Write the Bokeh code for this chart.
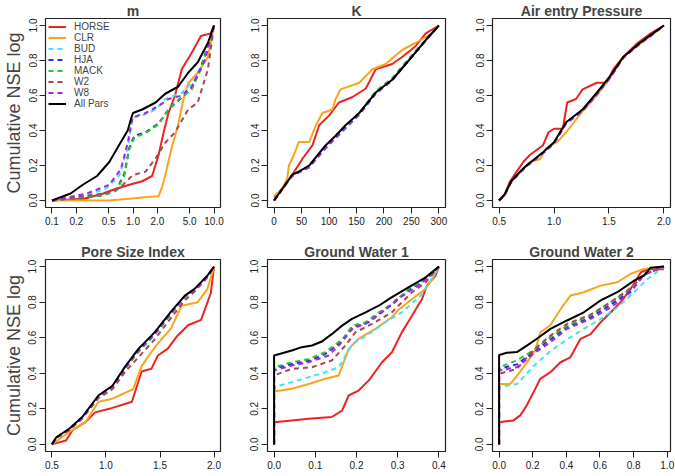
import math
from bokeh.plotting import figure
from bokeh.layouts import column, row
from bokeh.models import Range1d, FixedTicker, CustomJSTickFormatter
from bokeh.embed import file_html
from bokeh.resources import INLINE

# ---------------- data ----------------
SERIES = ["HORSE", "CLR", "BUD", "HJA", "MACK", "W2", "W8", "All Pars"]
Y_TICKS = [0.0, 0.2, 0.4, 0.6, 0.8, 1.0]

# panel m (log x)
m_ticks = [0.1, 0.2, 0.5, 1.0, 2.0, 5.0, 10.0]
m_horse_x = [0.1, 0.25, 0.43, 0.56, 0.9, 1.3, 1.72, 2.07, 2.39, 2.74, 3.3, 4.0, 5.25, 6.9, 9.1, 10]
m_horse_y = [0.0, 0.01, 0.04, 0.06, 0.09, 0.11, 0.14, 0.26, 0.39, 0.50, 0.60, 0.75, 0.84, 0.94, 0.955, 1.0]
m_clr_x = [0.1, 0.5, 0.9, 1.5, 2.07, 2.3, 2.5, 3.0, 3.6, 4.2, 4.8, 6.3, 8.4, 10]
m_clr_y = [0.0, 0.0, 0.01, 0.02, 0.025, 0.08, 0.145, 0.30, 0.43, 0.58, 0.67, 0.73, 0.82, 1.0]
m_bud_x = [0.1, 0.27, 0.47, 0.68, 0.86, 0.99, 1.3, 1.9, 2.5, 4.0, 5.8, 7.7, 10]
m_bud_y = [0.0, 0.03, 0.07, 0.145, 0.30, 0.475, 0.485, 0.52, 0.58, 0.615, 0.69, 0.82, 1.0]
m_hja_x = [0.1, 0.43, 0.62, 0.78, 0.9, 1.04, 1.43, 2.07, 2.74, 3.6, 5.3, 6.9, 10]
m_hja_y = [0.0, 0.03, 0.06, 0.15, 0.30, 0.37, 0.39, 0.44, 0.52, 0.57, 0.64, 0.76, 1.0]
m_mack_x = [0.1, 0.43, 0.62, 0.78, 0.9, 1.04, 1.43, 2.07, 2.74, 3.6, 5.3, 6.9, 10]
m_mack_y = [0.0, 0.03, 0.055, 0.14, 0.29, 0.36, 0.385, 0.435, 0.52, 0.575, 0.635, 0.75, 1.0]
m_w2_x = [0.1, 0.43, 0.68, 0.99, 1.43, 1.9, 2.5, 3.3, 4.8, 6.3, 8.4, 10]
m_w2_y = [0.0, 0.04, 0.07, 0.145, 0.165, 0.24, 0.33, 0.39, 0.52, 0.56, 0.75, 1.0]
m_w8_x = [0.1, 0.27, 0.51, 0.71, 0.86, 0.99, 1.43, 2.07, 2.74, 4.0, 5.3, 7.7, 10]
m_w8_y = [0.0, 0.04, 0.09, 0.18, 0.33, 0.475, 0.50, 0.54, 0.58, 0.60, 0.65, 0.80, 1.0]
m_all_x = [0.1, 0.17, 0.24, 0.36, 0.51, 0.68, 0.86, 0.95, 1.0, 1.3, 1.9, 2.5, 3.6, 4.8, 6.3, 8.4, 10]
m_all_y = [0.0, 0.04, 0.09, 0.14, 0.22, 0.32, 0.40, 0.47, 0.50, 0.52, 0.56, 0.61, 0.65, 0.73, 0.79, 0.90, 1.0]

# panel K
k_ticks = [0, 50, 100, 150, 200, 250, 300]
k_horse_x = [0, 18, 33, 52, 70, 82, 100, 118, 142, 167, 185, 215, 233, 257, 276, 300]
k_horse_y = [0.015, 0.08, 0.147, 0.24, 0.316, 0.43, 0.485, 0.56, 0.59, 0.64, 0.75, 0.78, 0.82, 0.88, 0.955, 1.0]
k_clr_x = [0, 15, 24, 27, 36, 45, 64, 76, 88, 106, 112, 121, 155, 179, 203, 233, 257, 288, 300]
k_clr_y = [0.024, 0.07, 0.128, 0.20, 0.26, 0.335, 0.335, 0.43, 0.50, 0.52, 0.58, 0.635, 0.673, 0.75, 0.78, 0.86, 0.90, 0.955, 1.0]
k_dash_x = [0, 33, 64, 94, 130, 155, 185, 215, 245, 276, 300]
k_bud_y = [0, 0.14, 0.19, 0.30, 0.41, 0.49, 0.61, 0.69, 0.80, 0.915, 1.0]
k_hja_y = [0, 0.145, 0.195, 0.31, 0.42, 0.495, 0.615, 0.69, 0.80, 0.915, 1.0]
k_mack_y = [0, 0.145, 0.20, 0.31, 0.425, 0.50, 0.625, 0.70, 0.81, 0.92, 1.0]
k_w2_y = [0, 0.145, 0.195, 0.305, 0.42, 0.495, 0.615, 0.69, 0.80, 0.915, 1.0]
k_w8_y = [0, 0.14, 0.19, 0.30, 0.415, 0.49, 0.61, 0.685, 0.80, 0.915, 1.0]
k_all_x = [0, 33, 45, 64, 94, 112, 130, 155, 185, 215, 245, 276, 300]
k_all_y = [0, 0.147, 0.165, 0.20, 0.316, 0.37, 0.43, 0.50, 0.617, 0.69, 0.80, 0.917, 1.0]

# panel Air entry Pressure
a_ticks = [0.5, 1.0, 1.5, 2.0]
a_horse_x = [0.5, 0.55, 0.6, 0.66, 0.72, 0.78, 0.9, 0.95, 1.0, 1.08, 1.12, 1.2, 1.26, 1.39, 1.48, 1.54, 1.63, 1.76, 1.88, 2.0]
a_horse_y = [0, 0.034, 0.11, 0.165, 0.22, 0.26, 0.316, 0.39, 0.41, 0.41, 0.56, 0.58, 0.635, 0.673, 0.673, 0.75, 0.82, 0.90, 0.955, 1.0]
a_clr_x = [0.5, 0.55, 0.61, 0.69, 0.78, 0.87, 0.93, 1.03, 1.11, 1.26, 1.39, 1.51, 1.63, 1.78, 1.9, 2.0]
a_clr_y = [0, 0.03, 0.105, 0.16, 0.22, 0.235, 0.30, 0.335, 0.39, 0.51, 0.60, 0.70, 0.82, 0.895, 0.95, 1.0]
a_dash_x = [0.5, 0.55, 0.61, 0.69, 0.75, 0.9, 1.0, 1.11, 1.26, 1.39, 1.51, 1.63, 1.78, 1.9, 2.0]
a_bud_y = [0, 0.03, 0.105, 0.16, 0.195, 0.27, 0.325, 0.44, 0.51, 0.605, 0.70, 0.815, 0.895, 0.95, 1.0]
a_hja_y = [0, 0.032, 0.107, 0.162, 0.198, 0.273, 0.33, 0.443, 0.515, 0.61, 0.705, 0.818, 0.897, 0.952, 1.0]
a_mack_y = [0, 0.033, 0.108, 0.163, 0.2, 0.275, 0.33, 0.445, 0.517, 0.612, 0.706, 0.818, 0.898, 0.953, 1.0]
a_w2_y = [0, 0.031, 0.106, 0.16, 0.197, 0.272, 0.328, 0.44, 0.512, 0.606, 0.702, 0.815, 0.896, 0.951, 1.0]
a_w8_y = [0, 0.031, 0.105, 0.16, 0.196, 0.271, 0.327, 0.441, 0.513, 0.608, 0.703, 0.816, 0.896, 0.951, 1.0]
a_all_x = [0.5, 0.55, 0.61, 0.69, 0.75, 0.9, 1.0, 1.11, 1.26, 1.39, 1.51, 1.63, 1.78, 1.9, 2.0]
a_all_y = [0, 0.034, 0.11, 0.165, 0.20, 0.276, 0.333, 0.447, 0.52, 0.616, 0.71, 0.82, 0.90, 0.955, 1.0]

# panel Pore Size Index
p_ticks = [0.5, 1.0, 1.5, 2.0]
p_horse_x = [0.5, 0.63, 0.69, 0.81, 0.9, 1.03, 1.24, 1.33, 1.42, 1.48, 1.57, 1.66, 1.76, 1.88, 1.97, 2.0]
p_horse_y = [0, 0.022, 0.08, 0.125, 0.18, 0.2, 0.24, 0.41, 0.425, 0.5, 0.537, 0.61, 0.67, 0.70, 0.85, 1.0]
p_clr_x = [0.5, 0.66, 0.81, 0.93, 1.06, 1.25, 1.33, 1.42, 1.51, 1.6, 1.7, 1.85, 1.94, 2.0]
p_clr_y = [0, 0.07, 0.125, 0.24, 0.257, 0.31, 0.44, 0.52, 0.59, 0.65, 0.78, 0.80, 0.875, 1.0]
p_dash_x = [0.5, 0.54, 0.66, 0.78, 0.93, 1.06, 1.18, 1.3, 1.45, 1.6, 1.73, 1.82, 1.94, 2.0]
p_bud_y = [0, 0.038, 0.085, 0.15, 0.27, 0.325, 0.43, 0.525, 0.62, 0.735, 0.83, 0.87, 0.945, 1.0]
p_hja_y = [0, 0.038, 0.086, 0.152, 0.272, 0.327, 0.435, 0.53, 0.625, 0.74, 0.832, 0.872, 0.947, 1.0]
p_mack_y = [0, 0.037, 0.084, 0.15, 0.268, 0.322, 0.428, 0.52, 0.615, 0.73, 0.828, 0.868, 0.944, 1.0]
p_w2_y = [0, 0.035, 0.08, 0.145, 0.26, 0.31, 0.41, 0.49, 0.59, 0.71, 0.81, 0.86, 0.94, 1.0]
p_w8_y = [0, 0.037, 0.085, 0.15, 0.27, 0.325, 0.432, 0.525, 0.62, 0.738, 0.832, 0.87, 0.946, 1.0]
p_all_x = [0.5, 0.54, 0.66, 0.78, 0.93, 1.06, 1.18, 1.3, 1.45, 1.6, 1.73, 1.82, 1.94, 2.0]
p_all_y = [0, 0.04, 0.088, 0.154, 0.275, 0.33, 0.44, 0.537, 0.63, 0.745, 0.837, 0.875, 0.95, 1.0]

# panel Ground Water 1
g1_ticks = [0.0, 0.1, 0.2, 0.3, 0.4]
g1_horse_x = [0, 0, 0.043, 0.084, 0.14, 0.165, 0.181, 0.205, 0.23, 0.262, 0.286, 0.31, 0.335, 0.359, 0.371, 0.392, 0.4]
g1_horse_y = [0, 0.125, 0.135, 0.144, 0.154, 0.19, 0.275, 0.303, 0.36, 0.462, 0.518, 0.63, 0.725, 0.818, 0.893, 0.95, 1.0]
g1_clr_x = [0, 0, 0.043, 0.084, 0.124, 0.157, 0.181, 0.205, 0.246, 0.286, 0.3, 0.335, 0.368, 0.384, 0.4]
g1_clr_y = [0, 0.298, 0.313, 0.34, 0.369, 0.388, 0.537, 0.594, 0.65, 0.715, 0.753, 0.818, 0.875, 0.93, 1.0]
g1_bud_x = [0, 0, 0.043, 0.084, 0.124, 0.157, 0.19, 0.23, 0.27, 0.31, 0.36, 0.4]
g1_bud_y = [0, 0.322, 0.35, 0.378, 0.406, 0.434, 0.565, 0.62, 0.687, 0.743, 0.846, 1.0]
g1_hja_x = [0, 0, 0.043, 0.084, 0.124, 0.165, 0.19, 0.222, 0.254, 0.286, 0.327, 0.368, 0.4]
g1_hja_y = [0, 0.425, 0.452, 0.47, 0.508, 0.58, 0.66, 0.68, 0.735, 0.785, 0.87, 0.925, 1.0]
g1_mack_x = [0, 0, 0.043, 0.084, 0.124, 0.165, 0.19, 0.222, 0.254, 0.286, 0.327, 0.368, 0.4]
g1_mack_y = [0, 0.434, 0.462, 0.48, 0.518, 0.59, 0.668, 0.687, 0.743, 0.79, 0.875, 0.93, 1.0]
g1_w2_x = [0, 0, 0.043, 0.092, 0.14, 0.173, 0.197, 0.238, 0.286, 0.335, 0.368, 0.4]
g1_w2_y = [0, 0.388, 0.425, 0.434, 0.472, 0.556, 0.63, 0.678, 0.743, 0.856, 0.912, 1.0]
g1_w8_x = [0, 0, 0.043, 0.084, 0.132, 0.157, 0.19, 0.23, 0.262, 0.3, 0.35, 0.4]
g1_w8_y = [0, 0.416, 0.444, 0.462, 0.5, 0.556, 0.65, 0.687, 0.743, 0.818, 0.893, 1.0]
g1_all_x = [0, 0, 0.043, 0.067, 0.092, 0.116, 0.14, 0.165, 0.189, 0.222, 0.254, 0.286, 0.327, 0.368, 0.4]
g1_all_y = [0, 0.5, 0.528, 0.547, 0.556, 0.579, 0.62, 0.668, 0.706, 0.743, 0.78, 0.828, 0.884, 0.94, 1.0]

# panel Ground Water 2
g2_ticks = [0.0, 0.2, 0.4, 0.6, 0.8, 1.0]
g2_horse_x = [0, 0, 0.086, 0.126, 0.165, 0.205, 0.245, 0.305, 0.365, 0.424, 0.484, 0.544, 0.604, 0.664, 0.723, 0.783, 0.843, 0.883, 0.98]
g2_horse_y = [0, 0.125, 0.135, 0.163, 0.22, 0.294, 0.369, 0.406, 0.462, 0.49, 0.594, 0.62, 0.687, 0.743, 0.80, 0.875, 0.968, 0.985, 0.985]
g2_clr_x = [0, 0, 0.066, 0.106, 0.165, 0.215, 0.245, 0.305, 0.365, 0.424, 0.504, 0.604, 0.703, 0.783, 0.862, 0.98]
g2_clr_y = [0, 0.34, 0.34, 0.385, 0.46, 0.53, 0.63, 0.67, 0.76, 0.837, 0.856, 0.893, 0.912, 0.96, 0.987, 1.0]
g2_bud_x = [0, 0, 0.106, 0.205, 0.305, 0.404, 0.504, 0.604, 0.703, 0.803, 0.883, 0.98]
g2_bud_y = [0, 0.322, 0.34, 0.44, 0.525, 0.59, 0.65, 0.706, 0.77, 0.856, 0.93, 1.0]
g2_hja_x = [0, 0, 0.106, 0.205, 0.305, 0.404, 0.544, 0.664, 0.783, 0.862, 0.98]
g2_hja_y = [0, 0.425, 0.45, 0.52, 0.59, 0.66, 0.715, 0.785, 0.865, 0.955, 1.0]
g2_mack_x = [0, 0, 0.106, 0.205, 0.305, 0.404, 0.544, 0.664, 0.783, 0.862, 0.98]
g2_mack_y = [0, 0.434, 0.472, 0.53, 0.603, 0.668, 0.725, 0.80, 0.875, 0.96, 1.0]
g2_w2_x = [0, 0, 0.106, 0.205, 0.305, 0.404, 0.544, 0.664, 0.783, 0.862, 0.98]
g2_w2_y = [0, 0.397, 0.425, 0.53, 0.612, 0.678, 0.73, 0.80, 0.88, 0.955, 1.0]
g2_w8_x = [0, 0, 0.106, 0.205, 0.305, 0.404, 0.544, 0.664, 0.783, 0.862, 0.98]
g2_w8_y = [0, 0.416, 0.434, 0.51, 0.575, 0.65, 0.706, 0.77, 0.856, 0.955, 1.0]
g2_all_x = [0, 0, 0.046, 0.106, 0.165, 0.225, 0.305, 0.404, 0.504, 0.604, 0.703, 0.803, 0.862, 0.9, 0.98]
g2_all_y = [0, 0.503, 0.515, 0.519, 0.556, 0.594, 0.65, 0.697, 0.743, 0.81, 0.856, 0.921, 0.95, 0.994, 1.0]

# ---------------- style ----------------
COLORS = {"HORSE": "#EE2222", "CLR": "#F7A51E", "BUD": "#3FE3F2", "HJA": "#2A2ADB",
          "MACK": "#2EC62E", "W2": "#A34A52", "W8": "#A424EE", "All Pars": "#000000"}
DASHED = {"BUD", "HJA", "MACK", "W2", "W8"}
FONT = "Liberation Sans"


def make_panel(title, data, xr, ticks, decimals, log=False, top=True, first=False, legend=False):
    h = 236 if top else 240
    p = figure(width=225, height=h, output_backend="svg", toolbar_location=None,
               x_axis_type="log" if log else "linear",
               x_range=Range1d(*xr), y_range=Range1d(-0.04, 1.04),
               min_border_left=42, min_border_right=5,
               min_border_top=15 if top else 23, min_border_bottom=29 if top else 25)
    p.title.text = title
    p.title.align = "center"
    p.title.text_font = FONT
    p.title.text_font_size = "14px"
    p.title.text_font_style = "bold"
    p.title.standoff = 0
    p.title.text_line_height = 0.9
    p.grid.visible = False
    p.outline_line_color = "#222222"
    p.outline_line_width = 1.2
    p.background_fill_color = "white"
    p.border_fill_color = "white"
    for ax, tk, dec in ((p.xaxis[0], ticks, decimals), (p.yaxis[0], Y_TICKS, 1)):
        ax.ticker = FixedTicker(ticks=tk)
        ax.formatter = CustomJSTickFormatter(code="return tick.toFixed(%d)" % dec)
        ax.axis_line_color = None
        ax.major_tick_out = 6
        ax.major_tick_in = 0
        ax.major_tick_line_color = "#222222"
        ax.minor_tick_line_color = None
        ax.major_label_text_font = FONT
        ax.major_label_text_font_size = "10px"
        ax.major_label_text_color = "#222222"
        ax.major_label_standoff = 3
    p.yaxis[0].major_label_orientation = "vertical"
    if first:
        p.yaxis[0].axis_label = "Cumulative NSE log"
        p.yaxis[0].axis_label_text_font = FONT
        p.yaxis[0].axis_label_text_font_size = "18px"
        p.yaxis[0].axis_label_text_font_style = "normal"
        p.yaxis[0].axis_label_standoff = 2
    for name in SERIES:
        xs, ys = data[name]
        kw = dict(line_color=COLORS[name], line_width=2)
        if name in DASHED:
            kw["line_dash"] = "5 4"
        if legend:
            kw["legend_label"] = name
        p.line(xs, ys, **kw)
    if legend:
        lg = p.legend[0]
        lg.location = "top_left"
        lg.border_line_color = None
        lg.background_fill_alpha = 0
        lg.label_text_font = FONT
        lg.label_text_font_size = "10px"
        lg.glyph_width = 18
        lg.glyph_height = 11
        lg.label_height = 11
        lg.label_standoff = 8
        lg.spacing = 0
        lg.padding = 4
        lg.margin = 3
    return p


m_data = {"HORSE": (m_horse_x, m_horse_y), "CLR": (m_clr_x, m_clr_y), "BUD": (m_bud_x, m_bud_y),
          "HJA": (m_hja_x, m_hja_y), "MACK": (m_mack_x, m_mack_y), "W2": (m_w2_x, m_w2_y),
          "W8": (m_w8_x, m_w8_y), "All Pars": (m_all_x, m_all_y)}
k_data = {"HORSE": (k_horse_x, k_horse_y), "CLR": (k_clr_x, k_clr_y), "BUD": (k_dash_x, k_bud_y),
          "HJA": (k_dash_x, k_hja_y), "MACK": (k_dash_x, k_mack_y), "W2": (k_dash_x, k_w2_y),
          "W8": (k_dash_x, k_w8_y), "All Pars": (k_all_x, k_all_y)}
a_data = {"HORSE": (a_horse_x, a_horse_y), "CLR": (a_clr_x, a_clr_y), "BUD": (a_dash_x, a_bud_y),
          "HJA": (a_dash_x, a_hja_y), "MACK": (a_dash_x, a_mack_y), "W2": (a_dash_x, a_w2_y),
          "W8": (a_dash_x, a_w8_y), "All Pars": (a_all_x, a_all_y)}
p_data = {"HORSE": (p_horse_x, p_horse_y), "CLR": (p_clr_x, p_clr_y), "BUD": (p_dash_x, p_bud_y),
          "HJA": (p_dash_x, p_hja_y), "MACK": (p_dash_x, p_mack_y), "W2": (p_dash_x, p_w2_y),
          "W8": (p_dash_x, p_w8_y), "All Pars": (p_all_x, p_all_y)}
g1_data = {"HORSE": (g1_horse_x, g1_horse_y), "CLR": (g1_clr_x, g1_clr_y), "BUD": (g1_bud_x, g1_bud_y),
           "HJA": (g1_hja_x, g1_hja_y), "MACK": (g1_mack_x, g1_mack_y), "W2": (g1_w2_x, g1_w2_y),
           "W8": (g1_w8_x, g1_w8_y), "All Pars": (g1_all_x, g1_all_y)}
g2_data = {"HORSE": (g2_horse_x, g2_horse_y), "CLR": (g2_clr_x, g2_clr_y), "BUD": (g2_bud_x, g2_bud_y),
           "HJA": (g2_hja_x, g2_hja_y), "MACK": (g2_mack_x, g2_mack_y), "W2": (g2_w2_x, g2_w2_y),
           "W8": (g2_w8_x, g2_w8_y), "All Pars": (g2_all_x, g2_all_y)}


def padded(lo, hi, frac=0.04):
    d = (hi - lo) * frac
    return (lo - d, hi + d)


m_lr = padded(math.log10(min(m_ticks)), math.log10(max(m_ticks)))
p1 = make_panel("m", m_data, (10 ** m_lr[0], 10 ** m_lr[1]), m_ticks, 1, log=True, top=True, first=True, legend=True)
p2 = make_panel("K", k_data, padded(0, 300), k_ticks, 0, top=True)
p3 = make_panel("Air entry Pressure", a_data, padded(0.5, 2.0), a_ticks, 1, top=True)
p4 = make_panel("Pore Size Index", p_data, padded(0.5, 2.0), p_ticks, 1, top=False, first=True)
p5 = make_panel("Ground Water 1", g1_data, padded(0.0, 0.4), g1_ticks, 1, top=False)
p6 = make_panel("Ground Water 2", g2_data, padded(0.0, 0.98), g2_ticks, 1, top=False)

layout = column(row(p1, p2, p3), row(p4, p5, p6))
open("out.html", "w").write(file_html(layout, INLINE))
